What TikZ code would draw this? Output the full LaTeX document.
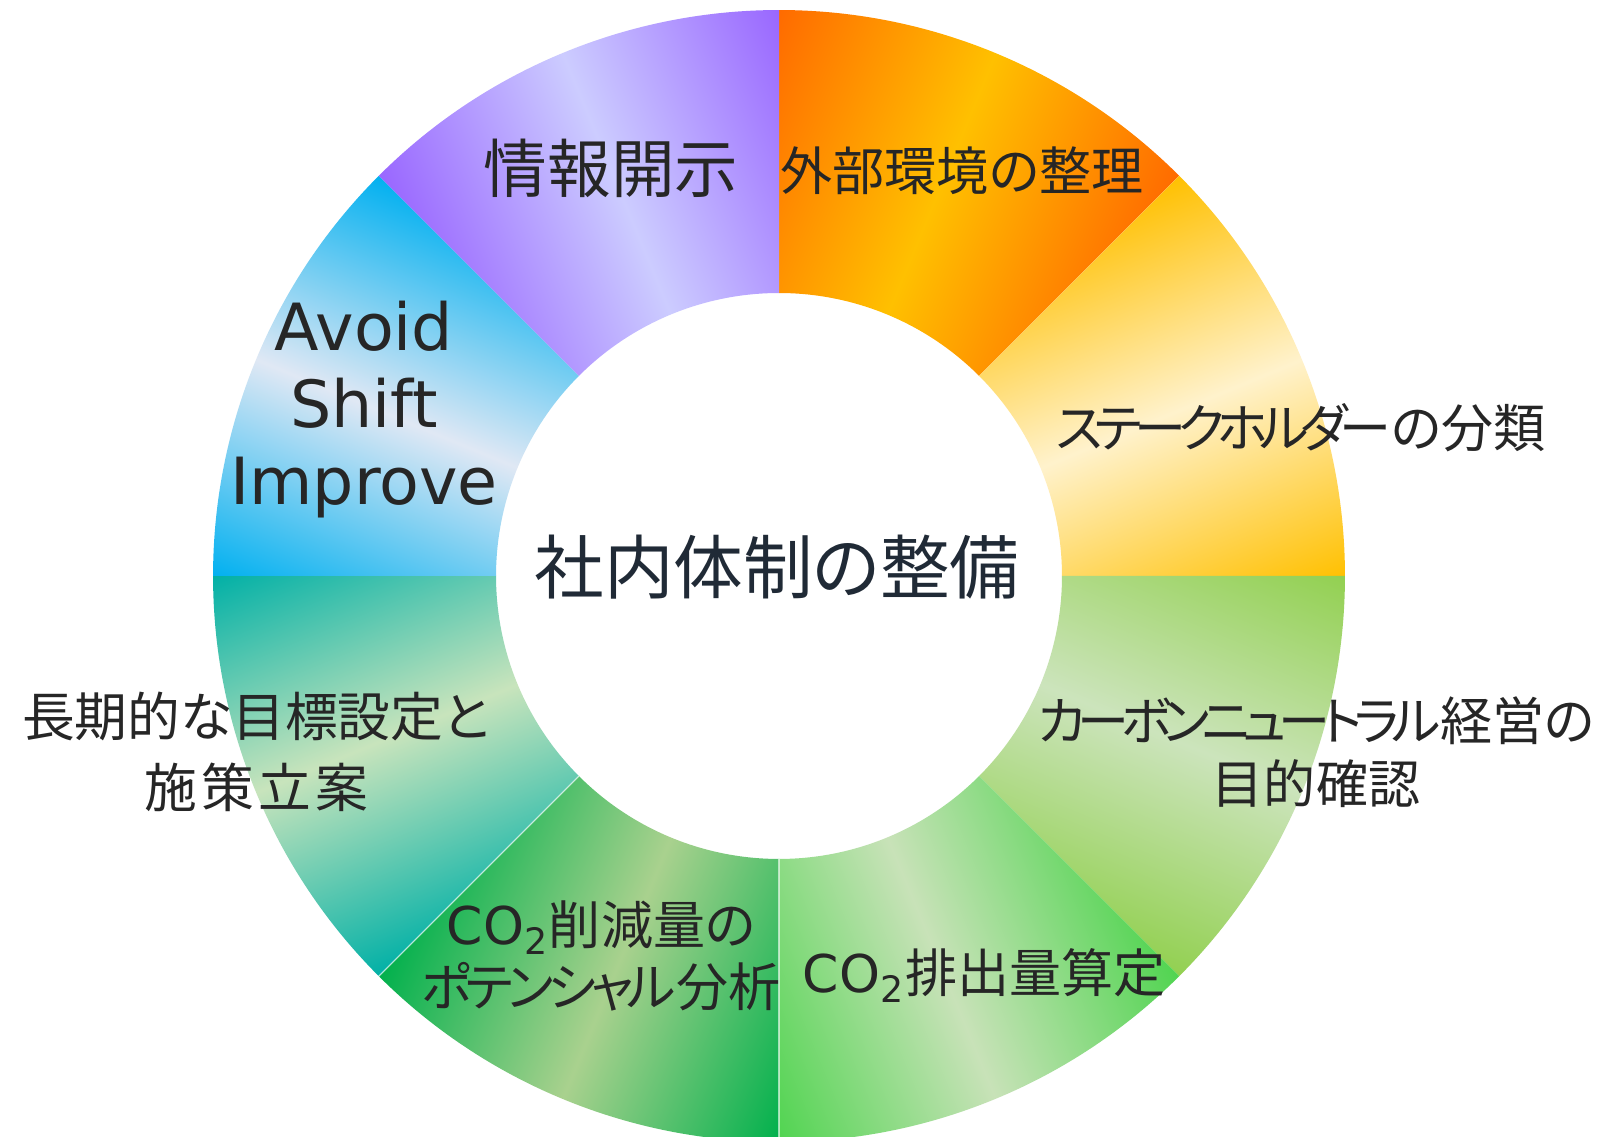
\documentclass[tikz,border=0pt]{standalone}
\usepackage{fontspec}
\usetikzlibrary{calc}
\newfontfamily\jp{Noto Sans CJK JP}[RawFeature={+palt}]
\newfontfamily\jpk{Noto Sans CJK JP}[RawFeature={+palt},LetterSpace=-11]
\newfontfamily\jpkk{Noto Sans CJK JP}[RawFeature={+palt},LetterSpace=-15]
\newfontfamily\jpw{Noto Sans CJK JP}[RawFeature={+palt},LetterSpace=8]
\newfontfamily\lat{DejaVu Sans}
\definecolor{txt}{HTML}{262626}
\definecolor{ctxt}{HTML}{202A36}
\definecolor{oA}{HTML}{FF6A00}\definecolor{oB}{HTML}{FFC000}
\definecolor{yA}{HTML}{FFC000}\definecolor{yB}{HTML}{FFF2CC}
\definecolor{gA}{HTML}{92D050}\definecolor{gB}{HTML}{CCE4BC}
\definecolor{lA}{HTML}{50D450}\definecolor{lB}{HTML}{C8E2B8}
\definecolor{dA}{HTML}{00B04C}\definecolor{dB}{HTML}{A9D18E}
\definecolor{tA}{HTML}{00B0A6}\definecolor{tB}{HTML}{C8E4BC}
\definecolor{bA}{HTML}{00B0F0}\definecolor{bB}{HTML}{E0E8F4}
\definecolor{pA}{HTML}{9966FF}\definecolor{pB}{HTML}{CCCCFF}
\newcommand{\ringseg}[3]{%
  \begin{scope}[transform canvas={shift={(779,561)}, rotate=#1}]
    \clip (-22.5:283) arc[start angle=-22.5,end angle=22.5,radius=283]
      -- (22.5:566) arc[start angle=22.5,end angle=-22.5,radius=566] -- cycle;
    \shade[top color=#2, bottom color=#2, middle color=#3] (240,-218) rectangle (580,218);
  \end{scope}}
\tikzset{
  lbl/.style={text=txt, align=center, inner sep=0pt},
  seam/.style={white, line width=0.4pt, opacity=0.6},
}
\begin{document}
\begin{tikzpicture}[x=0.01cm,y=0.01cm]
\fill[white] (0,0) rectangle (1600,1137);
\useasboundingbox (0,0) rectangle (1600,1137);
\ringseg{67.5}{oA}{oB}
\ringseg{22.5}{yA}{yB}
\ringseg{-22.5}{gA}{gB}
\ringseg{-67.5}{lA}{lB}
\ringseg{-112.5}{dA}{dB}
\ringseg{-157.5}{tA}{tB}
\ringseg{157.5}{bA}{bB}
\ringseg{112.5}{pA}{pB}
\coordinate (ctr) at (779,561);
\coordinate (s1a) at ($(ctr)+(270:283)$);
\coordinate (s1b) at ($(ctr)+(270:570)$);
\coordinate (s2a) at ($(ctr)+(225:283)$);
\coordinate (s2b) at ($(ctr)+(225:570)$);
\draw[seam] (s1a) -- (s1b);
\draw[seam] (s2a) -- (s2b);

\node[lbl, text=ctxt, font={\jp\fontsize{19.8}{24}\selectfont}] (center) at (777,570) {社内体制の整備};
\node[lbl, font={\jp\fontsize{18.1}{22}\selectfont}] (info) at (611,969) {情報開示};
\node[lbl, font={\jp\fontsize{14.8}{18}\selectfont}] (ext) at (962,966) {外部環境の整理};
\node[lbl, font={\jp\fontsize{14.8}{18}\selectfont}] (stake) at (1301,709) {{\jpkk ステークホルダー}の分類};
\node[lbl, font={\jp\fontsize{14.8}{17.9}\selectfont}] (cn) at (1316,385) {{\jpkk カーボンニュートラル}経営の\\目的確認};
\node[lbl, font={\jp\fontsize{14.8}{18}\selectfont}] (emis) at (984,164) {{\lat CO\smash{\textsubscript{2}}}排出量算定};
\node[lbl, font={\jp\fontsize{14.8}{17.6}\selectfont}] (red) at (601,181) {{\lat CO\smash{\textsubscript{2}}}削減量の\\{\jpk ポテンシャル}分析};
\node[lbl, font={\jp\fontsize{15}{20.2}\selectfont}] (goal) at (256,385) {長期的な目標設定と\\{\jpw 施策立案}};
\node[lbl, font={\lat\fontsize{18.5}{21.9}\selectfont}] (asi) at (364,727) {Avoid\\Shift\\Improve};
\end{tikzpicture}
\end{document}
